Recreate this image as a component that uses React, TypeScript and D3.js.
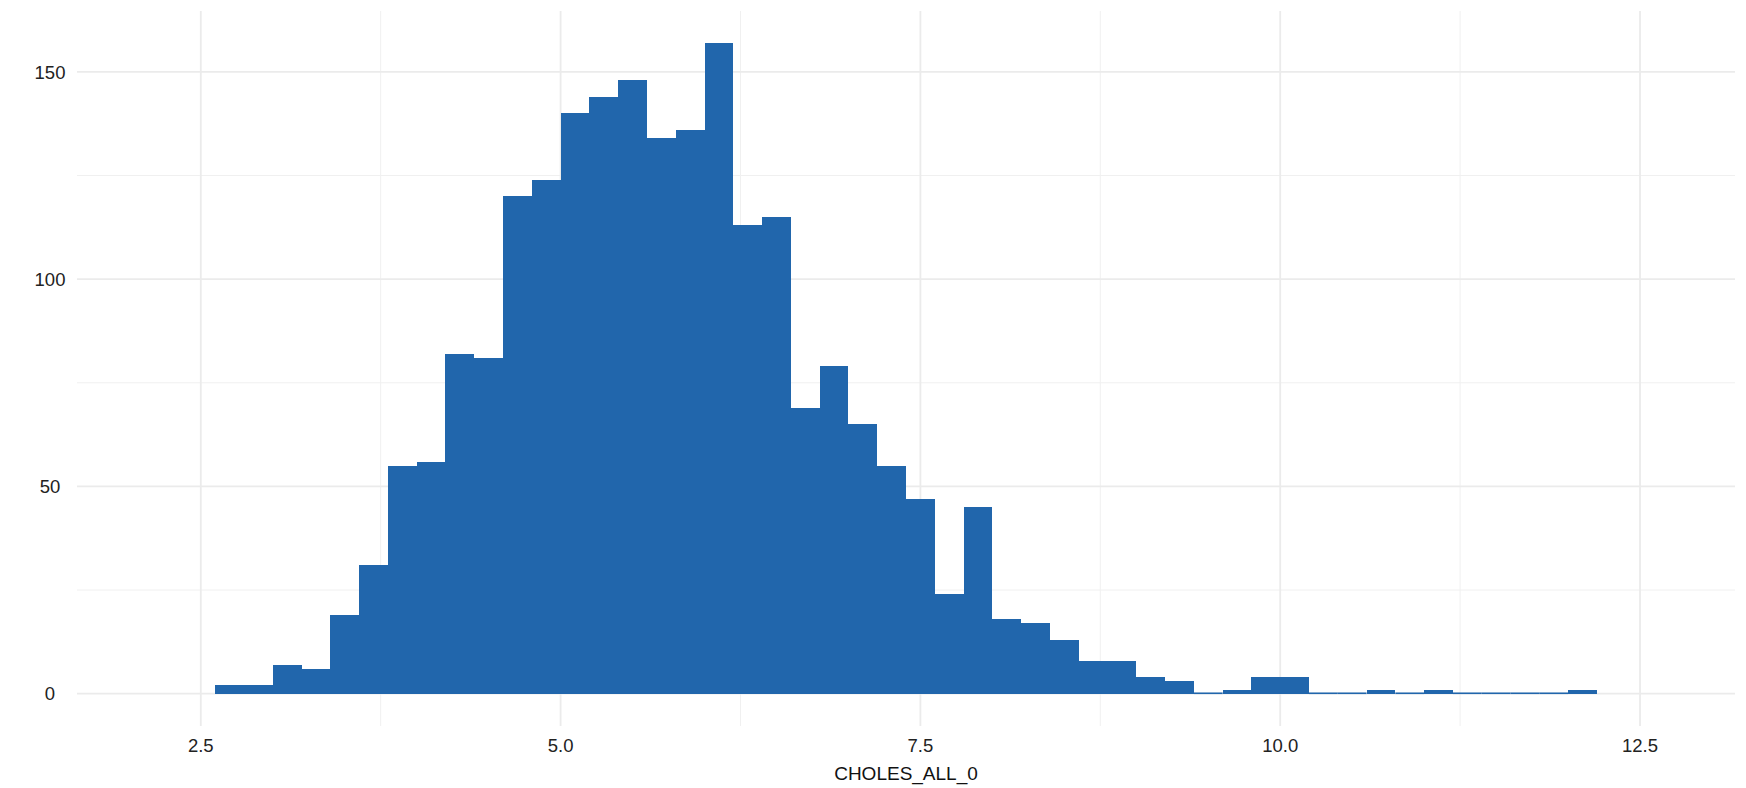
import React from "react";
import * as d3 from "d3";

// Histogram of CHOLES_ALL_0, binwidth 0.2 starting at 2.6
const binStarts: number[] = [
  2.6, 2.8, 3.0, 3.2, 3.4, 3.6, 3.8, 4.0, 4.2, 4.4, 4.6, 4.8, 5.0, 5.2, 5.4, 5.6,
  5.8, 6.0, 6.2, 6.4, 6.6, 6.8, 7.0, 7.2, 7.4, 7.6, 7.8, 8.0, 8.2, 8.4, 8.6, 8.8,
  9.0, 9.2, 9.4, 9.6, 9.8, 10.0, 10.2, 10.4, 10.6, 10.8, 11.0, 11.2, 11.4, 11.6, 11.8, 12.0,
];
const counts: number[] = [
  2, 2, 7, 6, 19, 31, 55, 56, 82, 81, 120, 124, 140, 144, 148, 134,
  136, 157, 113, 115, 69, 79, 65, 55, 47, 24, 45, 18, 17, 13, 8, 8,
  4, 3, 0, 1, 4, 4, 0, 0, 1, 0, 1, 0, 0, 0, 0, 1,
];
const binWidth = 0.2;
const xTicks: number[] = [2.5, 5.0, 7.5, 10.0, 12.5];
const xMinor: number[] = [3.75, 6.25, 8.75, 11.25];
const yTicks: number[] = [0, 50, 100, 150];
const yMinor: number[] = [25, 75, 125];
const xTitle = "CHOLES_ALL_0";

const W = 1746;
const H = 788;
const panel = { left: 77, right: 1735, top: 11, bottom: 726 };

export default function App() {
  const x = d3.scaleLinear().domain([1.64, 13.16]).range([panel.left, panel.right]);
  const y = d3.scaleLinear().domain([-7.8, 164.7]).range([panel.bottom, panel.top]);
  const font = "'Liberation Sans', Arial, Helvetica, sans-serif";
  const fill = "#2166AC";

  return (
    <svg
      width={W}
      height={H}
      style={{ position: "absolute", left: 0, top: 0, background: "#fff" }}
      fontFamily={font}
    >
      <rect x={0} y={0} width={W} height={H} fill="#fff" />
      {/* minor grid */}
      {yMinor.map((v) => (
        <line key={"ym" + v} x1={panel.left} x2={panel.right} y1={y(v)} y2={y(v)} stroke="#F0F0F0" strokeWidth={1} />
      ))}
      {xMinor.map((v) => (
        <line key={"xm" + v} x1={x(v)} x2={x(v)} y1={panel.top} y2={panel.bottom} stroke="#F0F0F0" strokeWidth={1} />
      ))}
      {/* major grid */}
      {yTicks.map((v) => (
        <line key={"yM" + v} x1={panel.left} x2={panel.right} y1={y(v)} y2={y(v)} stroke="#EBEBEB" strokeWidth={1.8} />
      ))}
      {xTicks.map((v) => (
        <line key={"xM" + v} x1={x(v)} x2={x(v)} y1={panel.top} y2={panel.bottom} stroke="#EBEBEB" strokeWidth={1.8} />
      ))}
      {/* bars */}
      {binStarts.map((b, i) => {
        const x0 = x(b);
        const x1 = x(b + binWidth);
        const top = y(counts[i]);
        const base = y(0);
        if (counts[i] === 0) {
          return (
            <line key={"bar" + i} x1={x0} x2={x1} y1={base - 0.4} y2={base - 0.4} stroke={fill} strokeWidth={1.6} />
          );
        }
        return (
          <rect
            key={"bar" + i}
            x={Math.round(x0)}
            y={top}
            width={Math.round(x1) - Math.round(x0)}
            height={base - top + 0.5}
            fill={fill}
            shapeRendering="crispEdges"
          />
        );
      })}
      {/* y labels */}
      {yTicks.map((v) => (
        <text key={"yl" + v} x={50} y={y(v)} dy="0.36em" textAnchor="middle" fontSize={18.5} fill="#222">
          {d3.format("d")(v)}
        </text>
      ))}
      {/* x labels */}
      {xTicks.map((v) => (
        <text key={"xl" + v} x={x(v)} y={752} textAnchor="middle" fontSize={18.5} fill="#222">
          {d3.format(".1f")(v)}
        </text>
      ))}
      <text x={(panel.left + panel.right) / 2} y={780} textAnchor="middle" fontSize={19} fill="#111">
        {xTitle}
      </text>
    </svg>
  );
}
